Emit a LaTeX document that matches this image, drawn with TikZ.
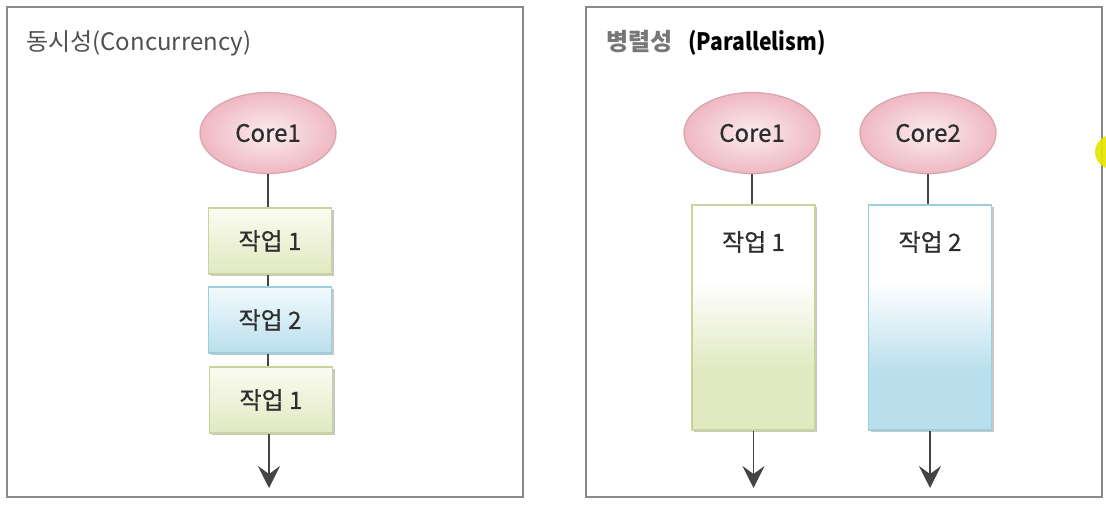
\documentclass[tikz,border=0pt]{standalone}
\usepackage{fontspec}
\setmainfont{Noto Sans CJK KR}
\newfontfamily\medfont{Noto Sans CJK KR}[FakeBold=0.6]
\usetikzlibrary{shapes.geometric,arrows.meta,shadows}
\definecolor{panelline}{HTML}{8A8A8A}
\definecolor{conn}{HTML}{444444}
\definecolor{pinkedge}{HTML}{D9A3AD}
\definecolor{pinkin}{HTML}{FBEDF0}
\definecolor{pinkout}{HTML}{EFB8C1}
\definecolor{gedge}{HTML}{C9D49C}
\definecolor{gtop}{HTML}{FBFCF2}
\definecolor{gbot}{HTML}{E0E9C0}
\definecolor{bedge}{HTML}{9CCFDD}
\definecolor{btop}{HTML}{F2FAFD}
\definecolor{bbot}{HTML}{B9DFEC}
\definecolor{txt}{HTML}{2E2E2E}
\definecolor{titlegray}{HTML}{505050}
\definecolor{title2gray}{HTML}{777777}
\definecolor{cursor}{HTML}{E6E600}
\pgfdeclareverticalshading{smallgreen}{100bp}{color(0bp)=(gbot); color(25bp)=(gbot); color(75bp)=(gtop); color(100bp)=(gtop)}
\pgfdeclareverticalshading{smallblue}{100bp}{color(0bp)=(bbot); color(25bp)=(bbot); color(75bp)=(btop); color(100bp)=(btop)}
\pgfdeclareverticalshading{tallgreen}{100bp}{color(0bp)=(gbot); color(25bp)=(gbot); color(38bp)=(gbot); color(58bp)=(white); color(75bp)=(white); color(100bp)=(white)}
\pgfdeclareverticalshading{tallblue}{100bp}{color(0bp)=(bbot); color(25bp)=(bbot); color(38bp)=(bbot); color(58bp)=(white); color(75bp)=(white); color(100bp)=(white)}
\tikzset{
  panel/.style={draw=panelline, line width=1.6pt},
  core/.style={ellipse, draw=pinkedge, line width=1.2pt, inner color=pinkin, outer color=pinkout,
    minimum width=136pt, minimum height=81pt, inner sep=0pt, text=txt,
    font=\medfont\fontsize{24}{28}\selectfont},
  taskbase/.style={rectangle, line width=1.2pt, minimum width=123pt, inner sep=0pt, text=txt,
    font=\medfont\fontsize{24}{28}\selectfont,
    drop shadow={shadow xshift=2pt, shadow yshift=-2pt, fill=black, opacity=0.22}},
  taskg/.style={taskbase, draw=gedge, shading=smallgreen, minimum height=66pt},
  taskb/.style={taskbase, draw=bedge, shading=smallblue, minimum height=66pt},
  tallg/.style={taskbase, draw=gedge, shading=tallgreen, minimum height=225pt},
  tallb/.style={taskbase, draw=bedge, shading=tallblue, minimum height=225pt},
  tasklabel/.style={text=txt, font=\medfont\fontsize{24}{28}\selectfont, inner sep=0pt},
  link/.style={draw=conn, line width=1.8pt},
  flow/.style={link, -{Stealth[length=22pt, width=22pt, inset=8pt]}}
}
\begin{document}
\begin{tikzpicture}[x=1pt, y=-1pt]
\useasboundingbox (0,0) rectangle (1106,505);
\fill[white] (0,0) rectangle (1106,505);
% panels
\draw[panel] (7,7) rectangle (523,497);
\draw[panel] (586,7) rectangle (1102,497);
% titles
\node[anchor=west, inner sep=0pt, text=titlegray, font=\fontsize{24}{28}\selectfont] (ltitle) at (26,43) {동시성(Concurrency)};
\node[anchor=west, inner sep=0pt, font=\fontsize{24}{28}\selectfont\bfseries] (rtitle) at (606,43) {\textcolor{title2gray}{병렬성}\hspace{16pt}\textcolor{black}{\scalebox{0.88}[1]{(Parallelism)}}};
% left: concurrency
\node[core] (lcore) at (268,133) {Core1};
\node[taskg] (lt1) at (270,241) {작업 1};
\node[taskb] (lt2) at (270,320) {작업 2};
\node[taskg] (lt3) at (271,400) {작업 1};
\coordinate (lend) at (269,488);
\draw[link] (lcore.south) -- (lcore.south |- lt1.north);
\draw[link] (lt1.south -| lcore.south) -- (lt2.north -| lcore.south);
\draw[link] (lt2.south -| lcore.south) -- (lt3.north -| lcore.south);
\draw[flow] (lt3.south -| lend) -- (lend);
% right: parallelism
\node[core] (rcore1) at (752,133) {Core1};
\node[core] (rcore2) at (928,133) {Core2};
\node[tallg] (rt1) at (753.5,317.5) {};
\node[tallb] (rt2) at (930,317.5) {};
\node[tasklabel] (rl1) at (753.5,242) {작업 1};
\node[tasklabel] (rl2) at (930,242) {작업 2};
\coordinate (rend1) at (753.5,488);
\coordinate (rend2) at (930,488);
\draw[link] (rcore1.south) -- (rcore1.south |- rt1.north);
\draw[link] (rcore2.south) -- (rcore2.south |- rt2.north);
\draw[flow] (rt1.south) -- (rend1);
\draw[flow] (rt2.south) -- (rend2);
% cursor highlight at the right edge
\begin{scope}
\clip (0,0) rectangle (1106,505);
\fill[cursor, opacity=0.9] (1112,152) circle (17);
\end{scope}
\end{tikzpicture}
\end{document}
